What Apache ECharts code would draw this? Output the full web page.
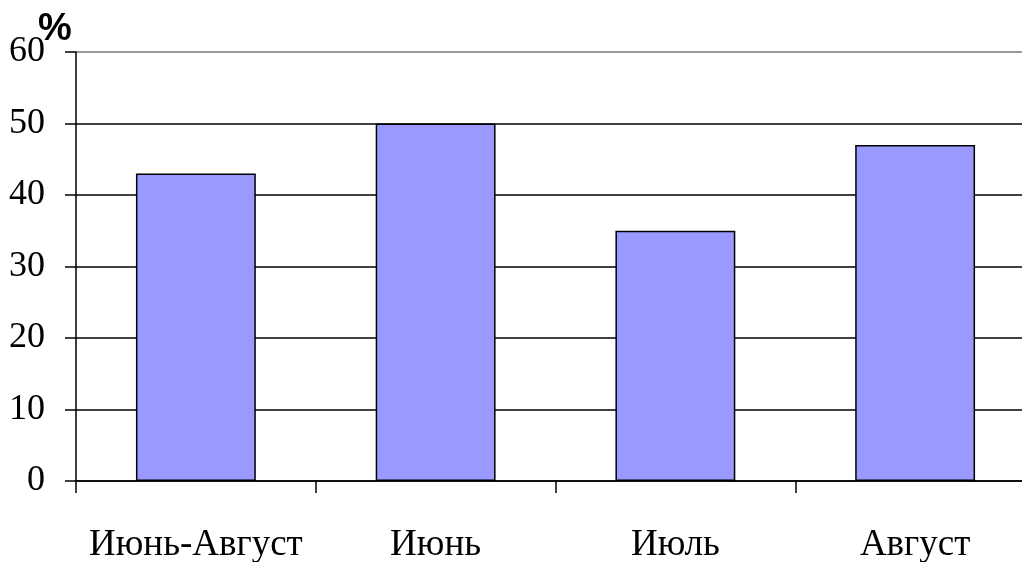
<!DOCTYPE html>
<html>
<head>
<meta charset="utf-8">
<script src="https://cdn.jsdelivr.net/npm/echarts@6/dist/echarts.min.js"></script>
<style>
  html, body { margin: 0; padding: 0; background: #fff; }
  #chart { width: 1022px; height: 562px; }
</style>
</head>
<body>
<div id="chart"></div>
<script>
// Categories and percentages for the bar chart
const categories = ['Июнь-Август', 'Июнь', 'Июль', 'Август'];
const values = [43, 50, 35, 47];
const yTicks = [0, 10, 20, 30, 40, 50, 60];

const chart = echarts.init(document.getElementById('chart'));
const serif = '"Liberation Serif", "Times New Roman", serif';

chart.setOption({
  animation: false,
  backgroundColor: '#fff',
  title: {
    text: '%',
    left: 33,
    top: 6,
    textStyle: { fontFamily: '"Liberation Sans", Arial, sans-serif', fontWeight: 'bold', fontSize: 38, color: '#000' }
  },
  // plot area runs slightly past the right edge of the canvas
  grid: { left: 76, width: 959, top: 52, height: 429, containLabel: false, outerBoundsMode: 'none' },
  xAxis: {
    type: 'category',
    data: categories,
    boundaryGap: true,
    axisLine: { lineStyle: { color: '#000', width: 1.5 } },
    axisTick: { show: true, interval: 0, length: 12, alignWithLabel: false, lineStyle: { color: '#000', width: 1.5 } },
    axisLabel: { interval: 0, fontFamily: serif, fontSize: 37, color: '#000', margin: 46 }
  },
  yAxis: {
    type: 'value',
    min: yTicks[0],
    max: yTicks[yTicks.length - 1],
    interval: 10,
    axisLine: { show: true, lineStyle: { color: '#000', width: 1.5 } },
    axisTick: { show: true, length: 11, lineStyle: { color: '#000', width: 1.5 } },
    axisLabel: { fontFamily: serif, fontSize: 36, color: '#000', margin: 31 },
    splitLine: {
      show: true,
      lineStyle: { color: ['#000', '#000', '#000', '#000', '#000', '#000', '#777'], width: 1.5 }
    }
  },
  series: [{
    type: 'bar',
    data: values,
    barWidth: '50%',
    itemStyle: { color: '#9999FF', borderColor: '#000', borderWidth: 1.5 }
  }]
});
</script>
</body>
</html>
